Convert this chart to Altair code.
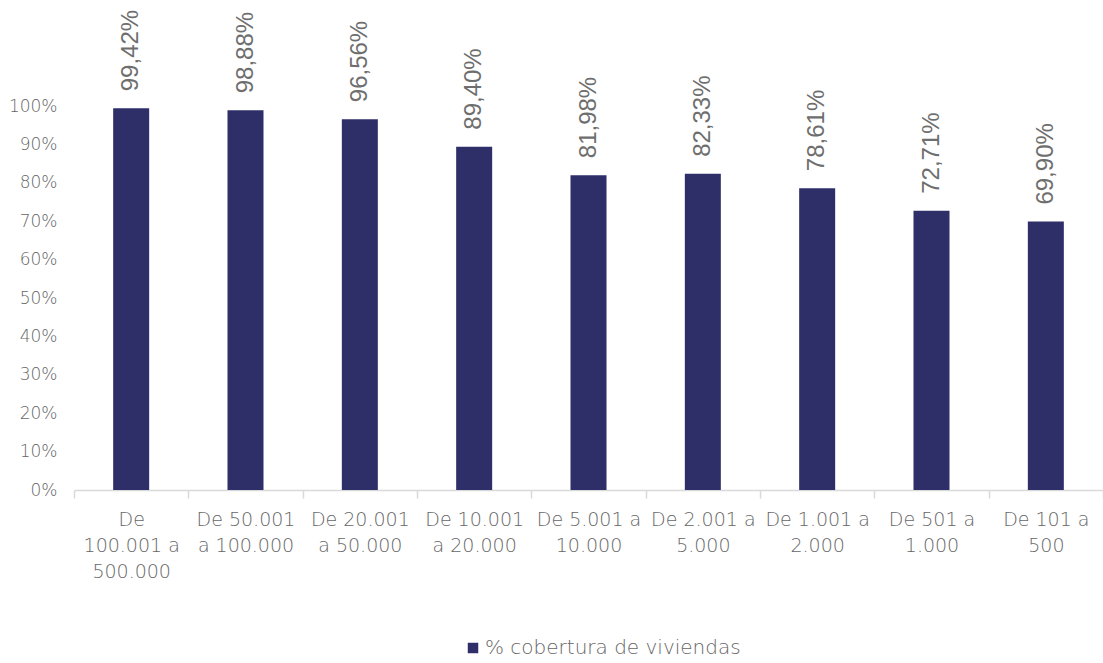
import altair as alt
import pandas as pd

categorias = [
    "De|100.001 a|500.000",
    "De 50.001|a 100.000",
    "De 20.001|a 50.000",
    "De 10.001|a 20.000",
    "De 5.001 a|10.000",
    "De 2.001 a|5.000",
    "De 1.001 a|2.000",
    "De 501 a|1.000",
    "De 101 a|500",
]
valores = [0.9942, 0.9888, 0.9656, 0.8940, 0.8198, 0.8233, 0.7861, 0.7271, 0.6990]
etiquetas = ["99,42%", "98,88%", "96,56%", "89,40%", "81,98%", "82,33%", "78,61%", "72,71%", "69,90%"]
serie = "% cobertura de viviendas"
y_ticks = [i / 10 for i in range(11)]

df = pd.DataFrame({"cat": categorias, "val": valores, "lab": etiquetas, "serie": [serie] * len(categorias)})

LEFT, TOP = 74, 106
W, H = 1029, 384
GRAY = "#666666"
FONT = "DejaVu Sans"

base = alt.Chart(df).encode(
    x=alt.X("cat:N", sort=categorias, title=None,
            scale=alt.Scale(paddingInner=0, paddingOuter=0),
            axis=alt.Axis(labelExpr="split(datum.label, '|')", labelAngle=0,
                          labelFontSize=19, labelFont=FONT, labelFontWeight=200, labelColor=GRAY,
                          labelLineHeight=26, labelPadding=12, labelBaseline="top",
                          domainColor="#d9d9d9", domainWidth=1.5, tickColor="#d9d9d9", tickWidth=1.5,
                          tickSize=8, tickBand="extent", labelLimit=200)),
    y=alt.Y("val:Q", title=None, scale=alt.Scale(domain=[0, 1], nice=False),
            axis=alt.Axis(values=y_ticks, format=".0%", grid=False, domain=False, ticks=False,
                          labelOverlap=False, labelFontSize=17, labelFont=FONT, labelFontWeight=200,
                          labelColor=GRAY, labelPadding=17)),
)

bars = base.mark_bar(size=36).encode(
    color=alt.Color("serie:N", scale=alt.Scale(range=["#2E2E69"]),
                    legend=alt.Legend(title=None, orient="none", legendX=389, legendY=532,
                                      symbolType="square", symbolSize=110, symbolStrokeWidth=0,
                                      labelFontSize=20, labelFont=FONT, labelFontWeight=200,
                                      labelColor=GRAY, labelOffset=2, labelLimit=400)),
)

text = base.mark_text(angle=270, align="left", baseline="middle", dx=17,
                      font="Liberation Sans", fontSize=24, color="#6e6e6e").encode(
    text="lab:N",
)

chart = (bars + text).properties(
    width=W, height=H,
    autosize=alt.AutoSizeParams(type="none"),
    padding={"left": LEFT, "top": TOP, "right": 1103 - LEFT - W, "bottom": 663 - TOP - H},
).configure(background="white").configure_view(stroke=None)

chart.save("out.html", embed_options={"renderer": "svg", "actions": False})
